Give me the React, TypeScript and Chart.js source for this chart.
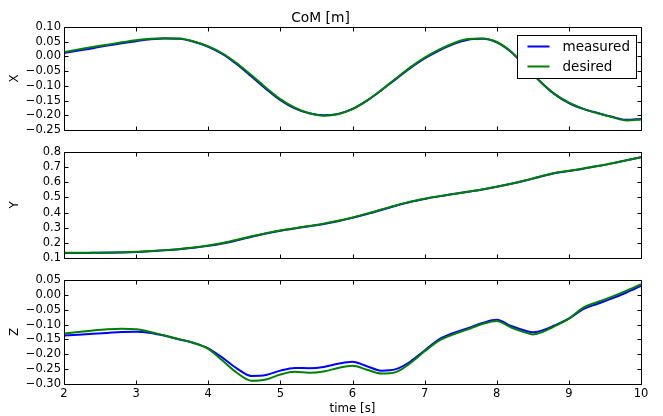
import React, { useEffect, useRef } from "react";
import { Chart, registerables } from "chart.js";

Chart.register(...registerables);

const time = [
  2.0, 2.2, 2.4, 2.6, 2.8, 3.0, 3.2, 3.4, 3.6, 3.8, 4.0, 4.2, 4.4, 4.6, 4.8, 5.0,
  5.2, 5.4, 5.6, 5.8, 6.0, 6.2, 6.4, 6.6, 6.8, 7.0, 7.2, 7.4, 7.6, 7.8, 8.0, 8.2,
  8.4, 8.5, 8.6, 8.8, 9.0, 9.2, 9.4, 9.6, 9.8, 10.0,
];

const xMeasured = [
  0.012, 0.02, 0.028, 0.037, 0.045, 0.052, 0.058, 0.061, 0.06, 0.05, 0.033, 0.008,
  -0.027, -0.068, -0.11, -0.148, -0.176, -0.193, -0.2, -0.195, -0.178, -0.15, -0.115,
  -0.077, -0.04, -0.007, 0.02, 0.042, 0.057, 0.06, 0.048, 0.015, -0.035, -0.06, -0.085,
  -0.128, -0.158, -0.178, -0.192, -0.205, -0.215, -0.212,
];
const xDesired = [
  0.015, 0.024, 0.032, 0.04, 0.048, 0.055, 0.06, 0.062, 0.061, 0.051, 0.034, 0.01,
  -0.024, -0.064, -0.106, -0.145, -0.174, -0.193, -0.201, -0.196, -0.179, -0.15,
  -0.114, -0.075, -0.037, -0.004, 0.023, 0.045, 0.059, 0.061, 0.049, 0.016, -0.034,
  -0.059, -0.084, -0.127, -0.157, -0.178, -0.193, -0.206, -0.217, -0.214,
];

const yMeasured = [
  0.133, 0.133, 0.134, 0.135, 0.137, 0.14, 0.145, 0.151, 0.158, 0.167, 0.18, 0.196,
  0.217, 0.24, 0.262, 0.28, 0.295, 0.31, 0.325, 0.343, 0.365, 0.39, 0.417, 0.445,
  0.47, 0.49, 0.507, 0.522, 0.537, 0.552, 0.57, 0.59, 0.612, 0.624, 0.637, 0.66, 0.675,
  0.69, 0.707, 0.725, 0.745, 0.765,
];
const yDesired = [
  0.134, 0.134, 0.135, 0.136, 0.138, 0.141, 0.146, 0.152, 0.159, 0.169, 0.182, 0.199,
  0.22, 0.243, 0.264, 0.282, 0.297, 0.312, 0.327, 0.346, 0.368, 0.393, 0.42, 0.447,
  0.471, 0.491, 0.508, 0.523, 0.538, 0.553, 0.571, 0.591, 0.613, 0.625, 0.638, 0.661,
  0.676, 0.691, 0.708, 0.726, 0.746, 0.766,
];

const zMeasured = [
  -0.137, -0.134, -0.131, -0.128, -0.125, -0.124, -0.128, -0.138, -0.15, -0.162,
  -0.18, -0.212, -0.248, -0.273, -0.27, -0.255, -0.246, -0.247, -0.243, -0.232,
  -0.225, -0.24, -0.255, -0.25, -0.225, -0.187, -0.15, -0.128, -0.112, -0.095,
  -0.084, -0.105, -0.121, -0.126, -0.122, -0.103, -0.08, -0.048, -0.03, -0.012, 0.008,
  0.03,
];
const zDesired = [
  -0.13, -0.125, -0.12, -0.116, -0.114, -0.116, -0.125, -0.137, -0.149, -0.162,
  -0.182, -0.222, -0.263, -0.289, -0.285, -0.268, -0.259, -0.262, -0.258, -0.246,
  -0.239, -0.252, -0.265, -0.26, -0.23, -0.19, -0.154, -0.133, -0.116, -0.098,
  -0.088, -0.11, -0.127, -0.133, -0.128, -0.106, -0.08, -0.043, -0.024, -0.006, 0.014,
  0.036,
];

const seriesLabels = ["measured", "desired"];
const panelLabels = ["X", "Y", "Z"];
const chartTitle = "CoM [m]";
const xAxisTitle = "time [s]";
const xRange = [2, 10];
const xStep = 1;
const yRanges = [
  [-0.25, 0.1],
  [0.1, 0.8],
  [-0.3, 0.05],
];
const ySteps = [0.05, 0.1, 0.05];
const yDecimals = [2, 1, 2];

const FONT = "'DejaVu Sans', sans-serif";
const BLUE = "#0000ff";
const GREEN = "#008000";

const fmt = (dec: number) => (v: any) => {
  const n = Math.abs(Number(v)) < 1e-9 ? 0 : Number(v);
  return n.toFixed(dec).replace("-", "\u2212");
};

const framePlugin = {
  id: "frameTicks",
  afterDraw(chart: any, _args: any, opts: any) {
    const { ctx, chartArea: a } = chart;
    const L = Math.round(a.left) + 0.5;
    const R = Math.round(a.right) + 0.5;
    const T = Math.round(a.top) + 0.5;
    const B = Math.round(a.bottom) + 0.5;
    ctx.save();
    ctx.strokeStyle = "#000";
    ctx.lineWidth = 1;
    ctx.beginPath();
    ctx.rect(L, T, R - L, B - T);
    const tl = 4;
    const xs = chart.scales.x;
    const ys = chart.scales.y;
    for (const t of xs.ticks) {
      const p = Math.round(xs.getPixelForValue(t.value)) + 0.5;
      ctx.moveTo(p, B);
      ctx.lineTo(p, B - tl);
      ctx.moveTo(p, T);
      ctx.lineTo(p, T + tl);
    }
    for (const t of ys.ticks) {
      const p = Math.round(ys.getPixelForValue(t.value)) + 0.5;
      ctx.moveTo(L, p);
      ctx.lineTo(L + tl, p);
      ctx.moveTo(R, p);
      ctx.lineTo(R - tl, p);
    }
    ctx.stroke();

    if (opts && opts.legend) {
      const w = 119;
      const h = 43;
      const bx = Math.round(a.right) - 5 - w + 0.5;
      const by = Math.round(a.top) + 8 + 0.5;
      ctx.fillStyle = "#fff";
      ctx.fillRect(bx, by, w, h);
      ctx.strokeStyle = "#000";
      ctx.lineWidth = 1;
      ctx.strokeRect(bx, by, w, h);
      const colors = [BLUE, GREEN];
      ctx.font = `13.5px ${FONT}`;
      ctx.textBaseline = "middle";
      ctx.textAlign = "left";
      seriesLabels.forEach((lab, i) => {
        const cy = by + 11 + i * 20;
        ctx.strokeStyle = colors[i];
        ctx.lineWidth = 2;
        ctx.beginPath();
        ctx.moveTo(bx + 10, cy);
        ctx.lineTo(bx + 32, cy);
        ctx.stroke();
        ctx.fillStyle = "#000";
        ctx.fillText(lab, bx + 45, cy + 0.5);
      });
    }
    ctx.restore();
  },
};

type PanelProps = {
  idx: number;
  top: number;
  height: number;
  padTop: number;
  xAxisHeight: number;
  measured: number[];
  desired: number[];
  showTitle?: boolean;
  showXLabels?: boolean;
  legend?: boolean;
};

function Panel(p: PanelProps) {
  const ref = useRef<HTMLCanvasElement | null>(null);
  useEffect(() => {
    if (!ref.current) return;
    const toPts = (arr: number[]) => arr.map((v, i) => ({ x: time[i], y: v }));
    const tickFont = { family: FONT, size: 11.5 };
    const chart = new Chart(ref.current, {
      type: "line",
      data: {
        datasets: [
          {
            label: seriesLabels[0],
            data: toPts(p.measured),
            borderColor: BLUE,
            borderWidth: 2,
            pointRadius: 0,
            tension: 0.4,
            cubicInterpolationMode: "monotone",
            order: 1,
          },
          {
            label: seriesLabels[1],
            data: toPts(p.desired),
            borderColor: GREEN,
            borderWidth: 2,
            pointRadius: 0,
            tension: 0.4,
            cubicInterpolationMode: "monotone",
            order: 0,
          },
        ],
      },
      options: {
        animation: false,
        responsive: false,
        events: [],
        layout: { padding: { top: p.showTitle ? 0 : p.padTop, left: 0, right: 22, bottom: 0 } },
        plugins: {
          legend: { display: false },
          tooltip: { enabled: false },
          title: {
            display: !!p.showTitle,
            text: chartTitle,
            color: "#000",
            font: { family: FONT, size: 13.8, weight: "normal" },
            padding: { top: 9.7, bottom: p.padTop - 9.7 - 13.8 * 1.2 },
          },
          frameTicks: { legend: !!p.legend },
        } as any,
        scales: {
          x: {
            type: "linear",
            min: xRange[0],
            max: xRange[1],
            grid: { display: false, drawTicks: false },
            border: { display: false },
            ticks: {
              display: !!p.showXLabels,
              stepSize: xStep,
              autoSkip: false,
              maxRotation: 0,
              padding: 3,
              color: "#000",
              font: tickFont,
              callback: (v: any) => String(v),
            },
            title: {
              display: !!p.showXLabels,
              text: xAxisTitle,
              color: "#000",
              font: { family: FONT, size: 11.8 },
              padding: { top: 0, bottom: 0 },
            },
            afterFit: (s: any) => {
              s.height = p.xAxisHeight;
            },
          },
          y: {
            type: "linear",
            min: yRanges[p.idx][0],
            max: yRanges[p.idx][1],
            grid: { display: false, drawTicks: false },
            border: { display: false },
            ticks: {
              stepSize: ySteps[p.idx],
              autoSkip: false,
              padding: 3,
              color: "#000",
              font: tickFont,
              callback: fmt(yDecimals[p.idx]),
            },
            title: {
              display: true,
              text: panelLabels[p.idx],
              color: "#000",
              font: { family: FONT, size: 11.8 },
              padding: { top: 8, bottom: 0 },
            },
            afterFit: (s: any) => {
              s.width = 64;
            },
          },
        },
      },
      plugins: [framePlugin],
    } as any);
    return () => chart.destroy();
  }, []);
  return (
    <div style={{ position: "absolute", left: 0, top: p.top, width: 663, height: p.height }}>
      <canvas ref={ref} width={663} height={p.height} style={{ display: "block" }} />
    </div>
  );
}

export default function App() {
  return (
    <div
      style={{
        position: "fixed",
        left: 0,
        top: 0,
        width: 663,
        height: 416,
        background: "#fff",
        overflow: "hidden",
      }}
    >
      <Panel idx={0} top={0} height={140} padTop={27} xAxisHeight={8} measured={xMeasured} desired={xDesired} showTitle legend />
      <Panel idx={1} top={140} height={130} padTop={12} xAxisHeight={12} measured={yMeasured} desired={yDesired} />
      <Panel idx={2} top={270} height={146} padTop={10} xAxisHeight={32} measured={zMeasured} desired={zDesired} showXLabels />
    </div>
  );
}
